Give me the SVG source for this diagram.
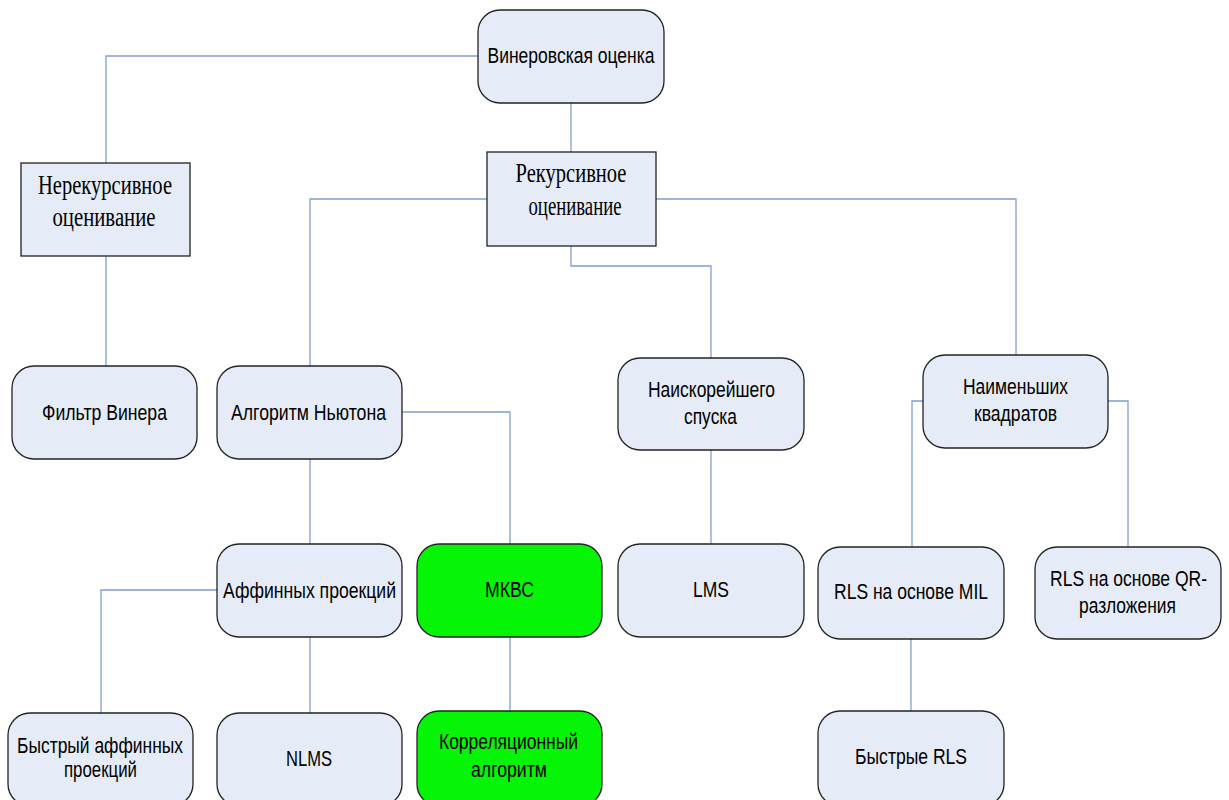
<svg xmlns="http://www.w3.org/2000/svg" width="1229" height="800" viewBox="0 0 1229 800">
<style>
.n{fill:#e6ecf7;stroke:#222;stroke-width:1.3}
.g{fill:#06f406;stroke:#222;stroke-width:1.3}
.t{font-family:"Liberation Sans",Arial,sans-serif;font-size:22px;fill:#000;text-anchor:middle}
.s{font-family:"Liberation Serif","Times New Roman",serif;font-size:27px;fill:#000;text-anchor:middle}
#connectors path{fill:none;stroke:#7f9fd4;stroke-width:1.3}
</style>
<rect width="1229" height="800" fill="#fff"/>
<g id="connectors">
<path d="M478,56 H106 V163"/>
<path d="M571,103 V152"/>
<path d="M106,256 V366"/>
<path d="M487,199 H310 V366"/>
<path d="M571,246 V266 H711 V358"/>
<path d="M656,199 H1016 V355"/>
<path d="M402,412 H510 V544"/>
<path d="M310,459 V544"/>
<path d="M217,590 H101 V713"/>
<path d="M310,637 V713"/>
<path d="M510,637 V711"/>
<path d="M711,450 V544"/>
<path d="M923,401 H912 V547"/>
<path d="M1108,401 H1128 V547"/>
<path d="M911,639 V711"/>
</g>
<g id="n_wiener_est">
<rect class="n" x="478" y="10" width="186" height="93" rx="22"/>
<text class="t" x="571" y="63" textLength="167" lengthAdjust="spacingAndGlyphs">Винеровская оценка</text>
</g>
<g id="n_nonrec">
<rect class="n" x="21" y="163" width="169" height="93"/>
<text class="s" x="105" y="194" textLength="134" lengthAdjust="spacingAndGlyphs">Нерекурсивное</text>
<text class="s" x="104" y="226" textLength="103" lengthAdjust="spacingAndGlyphs">оценивание</text>
</g>
<g id="n_rec">
<rect class="n" x="487" y="152" width="169" height="94"/>
<text class="s" x="571" y="182" textLength="111" lengthAdjust="spacingAndGlyphs">Рекурсивное</text>
<text class="s" x="575" y="215" textLength="93" lengthAdjust="spacingAndGlyphs">оценивание</text>
</g>
<g id="n_wiener_filter">
<rect class="n" x="12" y="366" width="185" height="93" rx="22"/>
<text class="t" x="104.5" y="420" textLength="125" lengthAdjust="spacingAndGlyphs">Фильтр Винера</text>
</g>
<g id="n_newton">
<rect class="n" x="217" y="366" width="185" height="93" rx="22"/>
<text class="t" x="308.5" y="420" textLength="155" lengthAdjust="spacingAndGlyphs">Алгоритм Ньютона</text>
</g>
<g id="n_steepest">
<rect class="n" x="618" y="358" width="186" height="92" rx="22"/>
<text class="t" x="711.5" y="397" textLength="127" lengthAdjust="spacingAndGlyphs">Наискорейшего</text>
<text class="t" x="710.5" y="424" textLength="53" lengthAdjust="spacingAndGlyphs">спуска</text>
</g>
<g id="n_ls">
<rect class="n" x="923" y="355" width="185" height="93" rx="22"/>
<text class="t" x="1015.5" y="394" textLength="105" lengthAdjust="spacingAndGlyphs">Наименьших</text>
<text class="t" x="1015.5" y="421" textLength="83" lengthAdjust="spacingAndGlyphs">квадратов</text>
</g>
<g id="n_affine">
<rect class="n" x="217" y="544" width="185" height="93" rx="22"/>
<text class="t" x="309.5" y="598" textLength="173" lengthAdjust="spacingAndGlyphs">Аффинных проекций</text>
</g>
<g id="n_mkvs">
<rect class="g" x="417" y="544" width="185" height="93" rx="22"/>
<text class="t" x="509.5" y="597" textLength="49" lengthAdjust="spacingAndGlyphs">МКВС</text>
</g>
<g id="n_lms">
<rect class="n" x="618" y="544" width="186" height="93" rx="22"/>
<text class="t" x="711" y="597" textLength="36" lengthAdjust="spacingAndGlyphs">LMS</text>
</g>
<g id="n_rls_mil">
<rect class="n" x="818" y="547" width="186" height="92" rx="22"/>
<text class="t" x="911" y="599" textLength="154" lengthAdjust="spacingAndGlyphs">RLS на основе MIL</text>
</g>
<g id="n_rls_qr">
<rect class="n" x="1035" y="547" width="186" height="92" rx="22"/>
<text class="t" x="1128.5" y="586" textLength="157" lengthAdjust="spacingAndGlyphs">RLS на основе QR-</text>
<text class="t" x="1127.5" y="613" textLength="97" lengthAdjust="spacingAndGlyphs">разложения</text>
</g>
<g id="n_fast_affine">
<rect class="n" x="8" y="713" width="185" height="93" rx="22"/>
<text class="t" x="100" y="753" textLength="166" lengthAdjust="spacingAndGlyphs">Быстрый аффинных</text>
<text class="t" x="100.5" y="777" textLength="73" lengthAdjust="spacingAndGlyphs">проекций</text>
</g>
<g id="n_nlms">
<rect class="n" x="217" y="713" width="185" height="93" rx="22"/>
<text class="t" x="309" y="766" textLength="46" lengthAdjust="spacingAndGlyphs">NLMS</text>
</g>
<g id="n_corr">
<rect class="g" x="417" y="711" width="185" height="95" rx="22"/>
<text class="t" x="508.5" y="749" textLength="139" lengthAdjust="spacingAndGlyphs">Корреляционный</text>
<text class="t" x="509" y="777" textLength="76" lengthAdjust="spacingAndGlyphs">алгоритм</text>
</g>
<g id="n_fast_rls">
<rect class="n" x="818" y="711" width="186" height="95" rx="22"/>
<text class="t" x="911" y="764" textLength="112" lengthAdjust="spacingAndGlyphs">Быстрые RLS</text>
</g>
</svg>
